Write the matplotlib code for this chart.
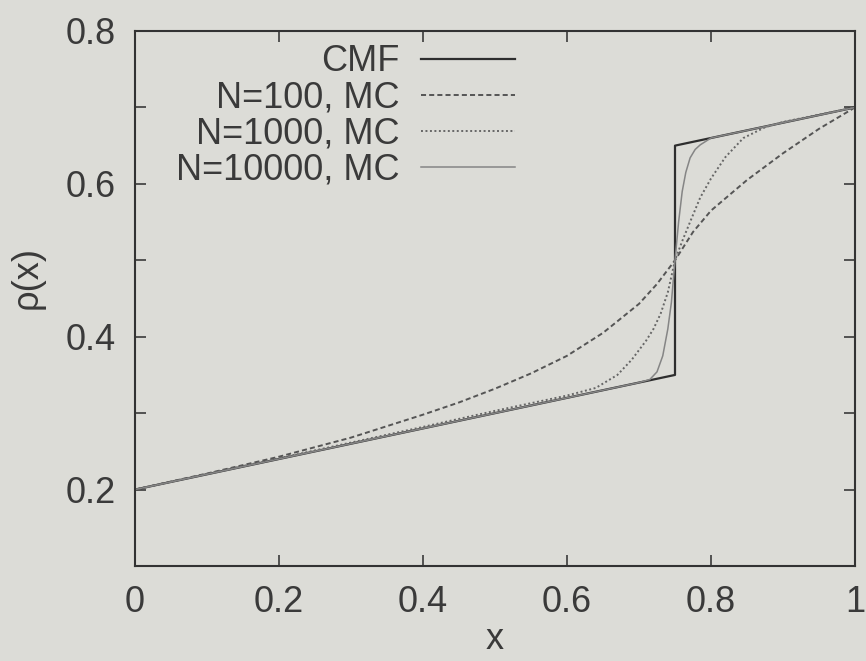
import matplotlib
matplotlib.use("Agg")
import matplotlib.pyplot as plt

# CMF: straight line with a jump at x = 0.75
x_cmf = [0.0, 0.75, 0.75, 1.0]
y_cmf = [0.20, 0.35, 0.65, 0.70]

# Monte Carlo estimates
x_n100 = [0.0, 0.1, 0.2, 0.3, 0.35, 0.4, 0.45, 0.5, 0.55, 0.6, 0.65, 0.7,
          0.725, 0.75, 0.775, 0.8, 0.85, 0.9, 0.95, 1.0]
y_n100 = [0.200, 0.221, 0.243, 0.268, 0.283, 0.298, 0.314, 0.332, 0.352, 0.375,
          0.405, 0.443, 0.469, 0.500, 0.537, 0.565, 0.605, 0.640, 0.672, 0.700]

x_n1000 = [0.0, 0.2, 0.4, 0.5, 0.6, 0.64, 0.67, 0.69, 0.71, 0.72, 0.73, 0.74,
           0.75, 0.76, 0.77, 0.785, 0.8, 0.82, 0.845, 0.875, 0.9, 1.0]
y_n1000 = [0.200, 0.241, 0.282, 0.303, 0.323, 0.333, 0.350, 0.370, 0.395, 0.410,
           0.430, 0.458, 0.500, 0.525, 0.548, 0.582, 0.607, 0.635, 0.660, 0.674,
           0.681, 0.700]

x_n10000 = [0.0, 0.4, 0.7, 0.715, 0.725, 0.733, 0.74, 0.745, 0.75, 0.755, 0.76,
            0.765, 0.771, 0.778, 0.785, 0.8, 1.0]
y_n10000 = [0.200, 0.280, 0.340, 0.344, 0.354, 0.375, 0.410, 0.445, 0.500, 0.550,
            0.590, 0.615, 0.634, 0.645, 0.651, 0.660, 0.700]

labels = ["CMF", "N=100, MC", "N=1000, MC", "N=10000, MC"]

bg = "#dcdcd7"
ink = "#3a3a3a"

plt.rcParams["font.family"] = ["Liberation Sans", "DejaVu Sans"]
plt.rcParams["font.size"] = 26

fig = plt.figure(figsize=(8.66, 6.61), dpi=100, facecolor=bg)
ax = fig.add_axes([135 / 866, 1 - 566 / 661, 720 / 866, 535 / 661])
ax.set_facecolor(bg)

ax.plot(x_cmf, y_cmf, color="#2e2e2e", lw=1.6, label=labels[0])
ax.plot(x_n100, y_n100, color="#555555", lw=1.4, ls=(0, (2.6, 1.6)), label=labels[1])
ax.plot(x_n1000, y_n1000, color="#666666", lw=1.4, ls=(0, (1, 1.3)), label=labels[2])
ax.plot(x_n10000, y_n10000, color="#858585", lw=1.1, label=labels[3])

ax.set_xlim(0, 1)
ax.set_ylim(0.1, 0.8)
ax.set_xticks([0, 0.2, 0.4, 0.6, 0.8, 1.0])
ax.set_xticklabels(["0", "0.2", "0.4", "0.6", "0.8", "1"])
ax.set_yticks([0.1, 0.2, 0.3, 0.4, 0.5, 0.6, 0.7, 0.8])
ax.set_yticklabels(["", "0.2", "", "0.4", "", "0.6", "", "0.8"])
ax.tick_params(direction="in", length=8, width=1.2, color=ink, labelcolor=ink,
               top=True, right=True, pad=14)
for s in ax.spines.values():
    s.set_color("#333333")
    s.set_linewidth(1.5)

ax.set_xlabel("x", color=ink, labelpad=1)
ax.set_ylabel("ρ(x)", color=ink)
ax.yaxis.set_label_coords(-0.125, 0.54)

leg = ax.legend(loc="upper right", bbox_to_anchor=(0.528, 0.975), frameon=False,
                markerfirst=False, handlelength=2.6, handletextpad=0.6,
                labelspacing=0.03, borderpad=0, borderaxespad=0)
for t in leg.get_texts():
    t.set_color(ink)

fig.savefig("out.png", dpi=100, facecolor=bg)
